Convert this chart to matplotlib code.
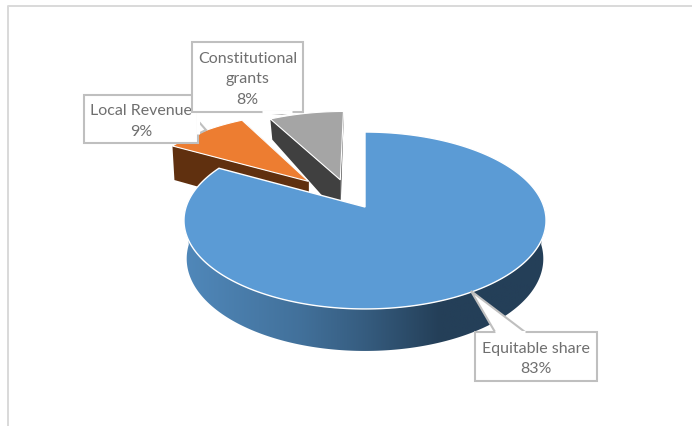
import numpy as np
from matplotlib import pyplot as plt
from matplotlib.patches import Polygon, Rectangle

plt.rcParams['font.family'] = ['Lato', 'DejaVu Sans']

labels = ["Equitable share", "Local Revenue", "Constitutional\ngrants"]
shares = [83, 9, 8]

TOP_COLORS = ["#5b9bd5", "#ed7d31", "#a5a5a5"]
WALL_COLORS = ["#2a4a68", "#60300f", "#404040"]

# pie geometry, in pixels of the canvas
CX, CY = 365, 208
A, B = 178.9, 86.4
K = 0.1525
EXPLODE = [(0, 0), (-0.33, 0.31), (-0.145, 0.33)]


def project(u, v):
    w = 1 + K * v
    return CX + A * u / w, CY - B * v / w


def depth(v):
    return np.interp(v, [-1, 0.81, 1.2, 1.4], [42, 34, 21, 10])


def rim(start, end, off, n=200):
    th = np.radians(np.linspace(start, end, n))
    u = np.sin(th) + off[0]
    v = np.cos(th) + off[1]
    x, y = project(u, v)
    return x, y, y + depth(v)


fig = plt.figure(figsize=(6.92, 4.27), dpi=100)
ax = fig.add_axes([0, 0, 1, 1])
ax.set_xlim(0, 692)
ax.set_ylim(427, 0)
ax.axis("off")

# top and left border of the chart area
ax.plot([7.5, 7.5, 692], [427, 6.5, 6.5], color="#d9d9d9", lw=1.4, zorder=1)

edges = np.cumsum([0] + shares) * 3.6

# exploded slices first, blue one sits in front of them
for i in [2, 1]:
    off = EXPLODE[i]
    a0, a1 = edges[i], edges[i + 1]
    ax0, ay0 = project(*off)
    d0 = depth(off[1])
    x, y, yb = rim(a0, a1, off)
    # radial wall on the right side of the slice
    wall = [(x[-1], y[-1]), (ax0, ay0), (ax0, ay0 + d0), (x[-1], yb[-1])]
    ax.add_patch(Polygon(wall, color=WALL_COLORS[i], lw=0, zorder=2))
    # start wall, the left edge seen from the front
    wall = [(x[0], y[0]), (ax0, ay0), (ax0, ay0 + d0), (x[0] + 2, yb[0])]
    ax.add_patch(Polygon(wall, color=WALL_COLORS[i], lw=0, zorder=2))
    top = np.column_stack([np.r_[ax0, x], np.r_[ay0, y]])
    ax.add_patch(Polygon(top, fc=TOP_COLORS[i], ec="white", lw=0.8, zorder=3))

# blue slice wall with left to right shading, lower rim a touch narrower
xs, ys, ybs = rim(90, 270, (0, 0), n=400)
xb = CX + (xs - CX) * 0.985
wall = Polygon(np.column_stack([np.r_[xs, xb[::-1]], np.r_[ys, ybs[::-1]]]), fc="none", ec="none")
ax.add_patch(wall)
grad = np.interp(np.linspace(184, 546, 256), [184, 300, 365, 440, 546], [0, 0.32, 0.6, 1, 1])
c0 = np.array([0x50, 0x88, 0xba])
c1 = np.array([0x24, 0x3f, 0x58])
img = (c0[None, :] * (1 - grad[:, None]) + c1[None, :] * grad[:, None])[None, :, :] / 255
im = ax.imshow(img, extent=[184, 546, 370, 200], aspect="auto", zorder=4)
im.set_clip_path(wall)
ax.set_xlim(0, 692)
ax.set_ylim(427, 0)

x, y, yb = rim(edges[0], edges[1], (0, 0), n=500)
ax0, ay0 = project(0, 0)
top = np.column_stack([np.r_[ax0, x], np.r_[ay0, y]])
ax.add_patch(Polygon(top, fc=TOP_COLORS[0], ec="white", lw=1, zorder=5))


def callout(x0, y0, x1, y1, wedge, text, z):
    # box with a wedge reaching towards the slice
    ax.add_patch(Rectangle((x0, y0), x1 - x0, y1 - y0, fc="white", ec="#bfbfbf", lw=1.5, zorder=z))
    ax.add_patch(Polygon(wedge, closed=False, fc="white", ec="#bfbfbf", lw=1.5, zorder=z))
    ax.plot([wedge[0][0], wedge[-1][0]], [wedge[0][1], wedge[-1][1]], color="white", lw=2.2, zorder=z,
            solid_capstyle="butt")
    ax.text((x0 + x1) / 2, (y0 + y1) / 2 + 1.5, text, ha="center", va="center", color="#6f6f6f",
            fontsize=11.5, linespacing=1.62, zorder=z + 0.5)


callout(475, 333, 597, 382, [(495, 333), (471, 292), (525, 333)], f"{labels[0]}\n{shares[0]}%", 6)
callout(84, 96, 198, 144, [(198, 113), (199, 123), (206, 131), (198, 135)], f"{labels[1]}\n{shares[1]}%", 6)
callout(192, 43, 303, 113, [(262, 113), (282, 115), (292, 113)], f"{labels[2]}\n{shares[2]}%", 7)

fig.savefig("out.png", dpi=100)
